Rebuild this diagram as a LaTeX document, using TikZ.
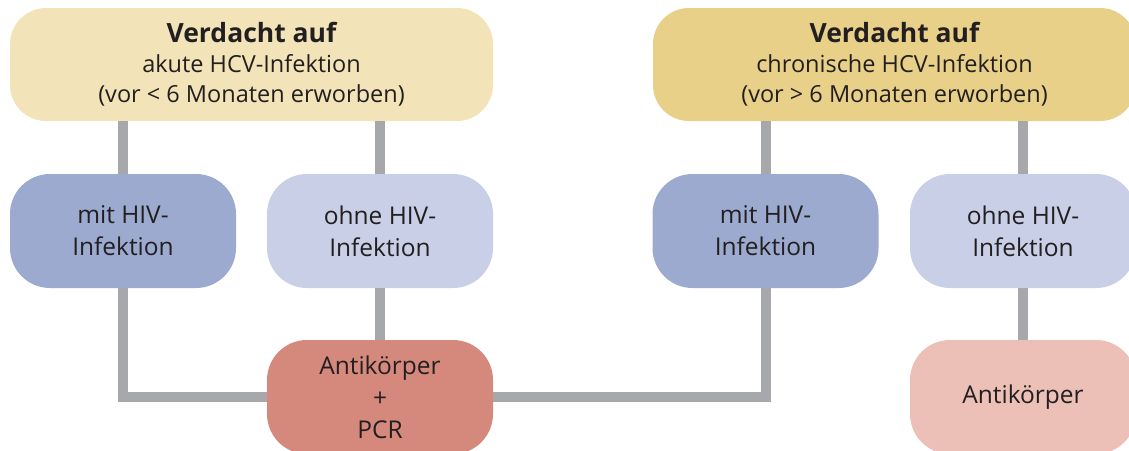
\documentclass[tikz,border=0pt]{standalone}
\usepackage{fontspec}
\setmainfont{Open Sans}
\usetikzlibrary{calc}
\definecolor{gelbhell}{HTML}{F2E4B8}
\definecolor{gelbdunkel}{HTML}{E8D088}
\definecolor{blaudunkel}{HTML}{9DAAD0}
\definecolor{blauhell}{HTML}{C9CFE7}
\definecolor{rotdunkel}{HTML}{D5897D}
\definecolor{rothell}{HTML}{ECC0B6}
\definecolor{linie}{HTML}{A7A8AB}
\definecolor{schrift}{HTML}{231F20}
\tikzset{
	kasten/.style={rounded corners=40pt, text=schrift, align=center, inner sep=0pt,
		minimum width=226pt, minimum height=114pt},
	kopf/.style={kasten, rounded corners=36pt, minimum width=483pt, minimum height=113pt,
		font=\fontsize{23.5}{30}\selectfont},
	mitte/.style={kasten, font=\fontsize{24.5}{32}\selectfont},
	verbinder/.style={draw=linie, line width=10pt, line join=miter}
}
\begin{document}
\begin{tikzpicture}[x=1pt, y=-1pt]
			%%%%% START %%%%%
			\useasboundingbox (0, 0) rectangle (1129, 450);
			\clip (0, 0) rectangle (1129, 450);
			
			% obere Kaesten
			\node[kopf, fill=gelbhell] (akut) at (251.5, 64.5)
				{{\fontsize{26.5}{30}\selectfont\bfseries Verdacht auf}\\akute HCV-Infektion\\(vor < 6 Monaten erworben)};
			\node[kopf, fill=gelbdunkel] (chron) at (894.5, 64.5)
				{{\fontsize{26.5}{30}\selectfont\bfseries Verdacht auf}\\chronische HCV-Infektion\\(vor > 6 Monaten erworben)};
			
			% HIV-Kaesten
			\node[mitte, fill=blaudunkel] (akutmit) at (123, 231) {mit HIV-\\Infektion};
			\node[mitte, fill=blauhell] (akutohne) at (380, 231) {ohne HIV-\\Infektion};
			\node[mitte, fill=blaudunkel] (chronmit) at (765.5, 231) {mit HIV-\\Infektion};
			\node[mitte, fill=blauhell] (chronohne) at (1023, 231) {ohne HIV-\\Infektion};
			
			% Tests
			\node[mitte, fill=rotdunkel] (pcr) at (380, 397) {Antikörper\\+\\PCR};
			\node[mitte, fill=rothell] (antik) at (1023, 397) {Antikörper};
			
			% Linien
			\draw[verbinder] (akutmit.north) -- (akutmit.north |- akut.south);
			\draw[verbinder] (akutohne.north) -- (akutohne.north |- akut.south);
			\draw[verbinder] (chronmit.north) -- (chronmit.north |- chron.south);
			\draw[verbinder] (chronohne.north) -- (chronohne.north |- chron.south);
			
			\draw[verbinder] (akutmit.south) -- (akutmit.south |- pcr.west) -- (pcr.west);
			\draw[verbinder] (akutohne.south) -- (pcr.north);
			\draw[verbinder] (pcr.east) -- (pcr.east -| chronmit.south) -- (chronmit.south);
			\draw[verbinder] (chronohne.south) -- (antik.north);
			
			%%%%% END %%%%%
\end{tikzpicture}
\end{document}
